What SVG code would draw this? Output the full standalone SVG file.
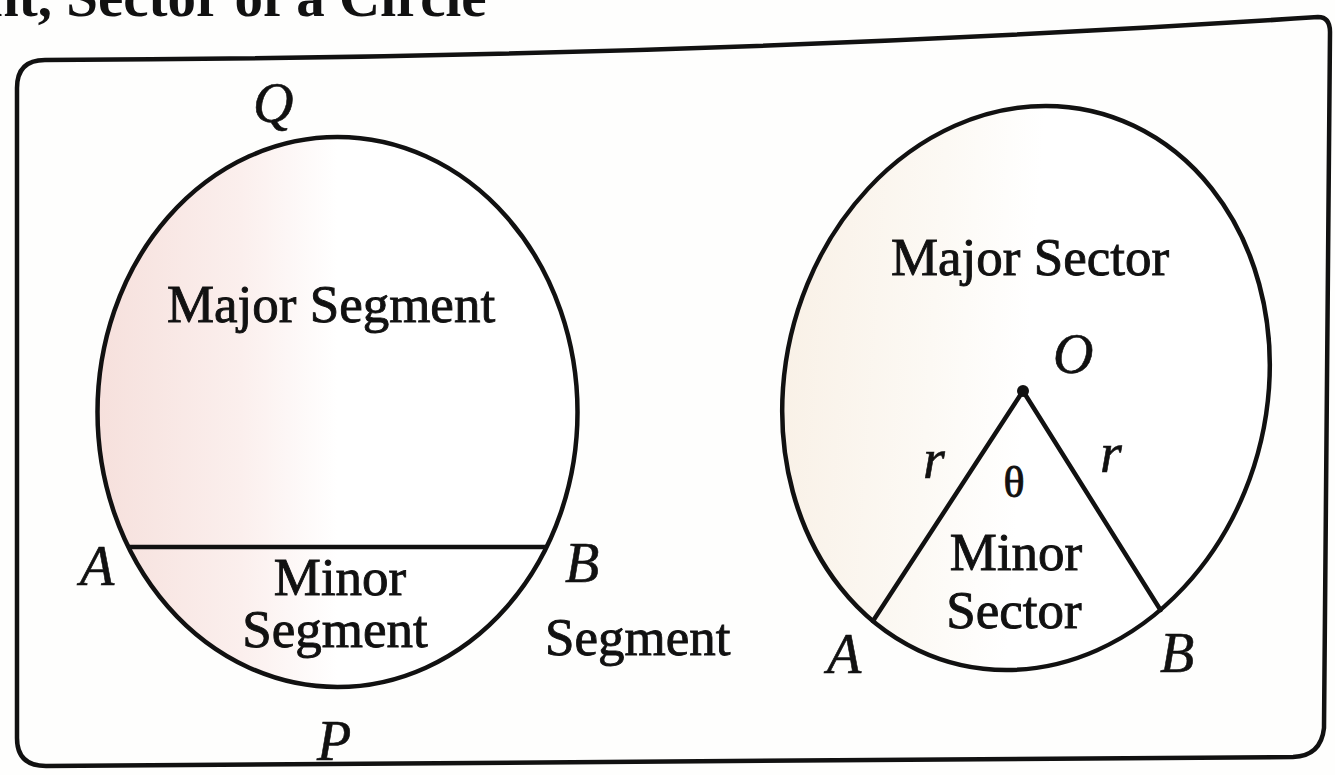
<svg xmlns="http://www.w3.org/2000/svg" width="1335" height="775" viewBox="0 0 1335 775">
  <defs>
    <linearGradient id="pinkShade" x1="0" y1="0" x2="1" y2="0">
      <stop offset="0" stop-color="#f6e0dc"/>
      <stop offset="0.3" stop-color="#fbefed"/>
      <stop offset="0.5" stop-color="#ffffff"/>
    </linearGradient>
    <linearGradient id="beigeShade" x1="0" y1="0" x2="1" y2="0">
      <stop offset="0" stop-color="#f9f1e7"/>
      <stop offset="0.3" stop-color="#fcf9f4"/>
      <stop offset="0.5" stop-color="#ffffff"/>
    </linearGradient>
  </defs>
  <style>
    .ln { fill: none; stroke: #111; stroke-width: 4.5; stroke-linecap: round; stroke-linejoin: round; }
    .txt { font-family: "Liberation Serif", "DejaVu Serif", serif; font-size: 53px; fill: #111; stroke: #111; stroke-width: 0.9; }
    .lbl { font-family: "Liberation Serif", "DejaVu Serif", serif; font-style: italic; font-size: 56px; fill: #111; stroke: #111; stroke-width: 0.6; }
    .head { font-family: "Liberation Serif", "DejaVu Serif", serif; font-weight: bold; font-size: 57px; fill: #111; }
    .mid { text-anchor: middle; }
  </style>

  <rect x="0" y="0" width="1335" height="775" fill="#fefefd"/>

  <g id="heading">
    <text class="head" x="-13" y="16">nt, Sector of a Circle</text>
  </g>

  <g id="frame">
    <path class="ln" d="M 17 88 Q 17 60 45 60 Q 700 58 1318 17 Q 1330 17 1330 32 L 1324 728 Q 1321 756 1293 757 L 46 766 Q 17 766 17 738 Z"/>
  </g>

  <g id="segment-figure">
    <ellipse cx="337.5" cy="412" rx="240" ry="275" class="ln" style="fill:url(#pinkShade)"/>
    <line class="ln" x1="129" y1="547" x2="546" y2="547"/>
    <text class="txt mid" x="331" y="322">Major Segment</text>
    <text class="txt mid" x="340" y="595">Minor</text>
    <text class="txt mid" x="335" y="647">Segment</text>
    <text class="lbl" x="253" y="122">Q</text>
    <text class="lbl" x="80" y="585">A</text>
    <text class="lbl" x="565" y="582">B</text>
    <text class="lbl" x="317" y="760">P</text>
    <text class="txt" x="545" y="655">Segment</text>
  </g>

  <g id="sector-figure">
    <g transform="translate(1026 388) skewX(-4)">
      <ellipse cx="0" cy="0" rx="243" ry="282" class="ln" style="fill:url(#beigeShade)"/>
    </g>
    <polyline class="ln" points="873,621 1023,391 1160.5,610"/>
    <circle cx="1023" cy="391" r="6" fill="#111"/>
    <text class="txt mid" x="1030" y="275">Major Sector</text>
    <text class="lbl" x="1053" y="373">O</text>
    <text class="lbl" x="923" y="478">r</text>
    <text class="lbl" x="1100" y="472">r</text>
    <text class="txt mid" x="1014" y="497" style="font-size:44px">θ</text>
    <text class="txt mid" x="1016" y="570">Minor</text>
    <text class="txt mid" x="1014" y="628">Sector</text>
    <text class="lbl" x="827" y="673">A</text>
    <text class="lbl" x="1160" y="672">B</text>
  </g>
</svg>
